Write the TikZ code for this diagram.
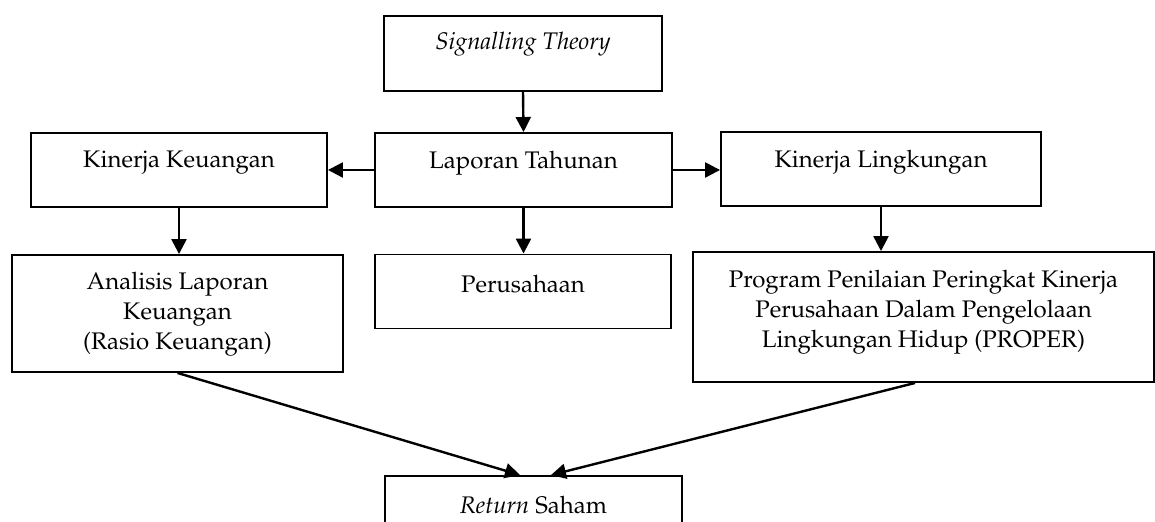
\documentclass[tikz,border=0pt]{standalone}
\usepackage[T1]{fontenc}
\usepackage{mathpazo}
\usetikzlibrary{arrows.meta}
\tikzstyle{frameBox} = [
 rectangle,
 draw=black,
 line width=0.95pt,
 inner sep=0pt
]
\tikzstyle{boxText} = [
 align = center,
 inner sep = 0pt,
 font = \fontsize{12}{15}\selectfont
]
\tikzstyle{flow} = [
 line width=1.2pt,
 -{Triangle[length=7.5pt,width=7.5pt]}
]

\begin{document}
\begin{tikzpicture}[x=0.5pt,y=-0.5pt]
  \useasboundingbox (0,0) rectangle (1155,522);
  % boxes
  \node [frameBox, minimum width=139pt, minimum height=37.5pt] (sig) at (523,53.5) {};
  \node [frameBox, minimum width=148.5pt, minimum height=37pt] (lap) at (523.5,170) {};
  \node [frameBox, minimum width=148pt, minimum height=37pt] (kk) at (179,170) {};
  \node [frameBox, minimum width=160pt, minimum height=37pt] (kl) at (881,169) {};
  \node [frameBox, minimum width=165.5pt, minimum height=58.5pt] (ana) at (177.5,313.5) {};
  \node [frameBox, minimum width=148pt, minimum height=37pt] (per) at (523,291.5) {};
  \node [frameBox, minimum width=230.5pt, minimum height=65pt] (prop) at (923.5,317) {};
  \node [frameBox, minimum width=148.5pt, minimum height=37pt] (ret) at (533.5,513) {};
  % texts
  \node [boxText] (sigText) at (523,44.5) {\textit{Signalling Theory}};
  \node [boxText] (lapText) at (523.5,163) {Laporan Tahunan};
  \node [boxText] (kkText) at (179,163) {Kinerja Keuangan};
  \node [boxText] (klText) at (881,162) {Kinerja Lingkungan};
  \node [boxText] (anaText) at (177.5,314) {Analisis Laporan \\ Keuangan \\ (Rasio Keuangan)};
  \node [boxText] (perText) at (523,284) {Perusahaan};
  \node [boxText] (propText) at (923.5,312) {Program Penilaian Peringkat Kinerja \\ Perusahaan Dalam Pengelolaan \\ Lingkungan Hidup (PROPER)};
  \node [boxText] (retText) at (533.5,505) {\textit{Return} Saham};
  % arrows
  \draw [flow] (sig.south) -- (lap.north);
  \draw [flow] (lap.west) -- (kk.east);
  \draw [flow] (lap.east) -- (lap.east -| kl.west);
  \draw [flow] (kk.south) -- (kk.south |- ana.north);
  \draw [flow] (lap.south) -- (lap.south |- per.north);
  \draw [flow] (kl.south) -- (kl.south |- prop.north);
  \draw [flow] (ana.south) -- ([xshift=-6.75pt]ret.north);
  \draw [flow] ([xshift=-4.25pt]prop.south) -- ([xshift=8.75pt]ret.north);
\end{tikzpicture}
\end{document}
